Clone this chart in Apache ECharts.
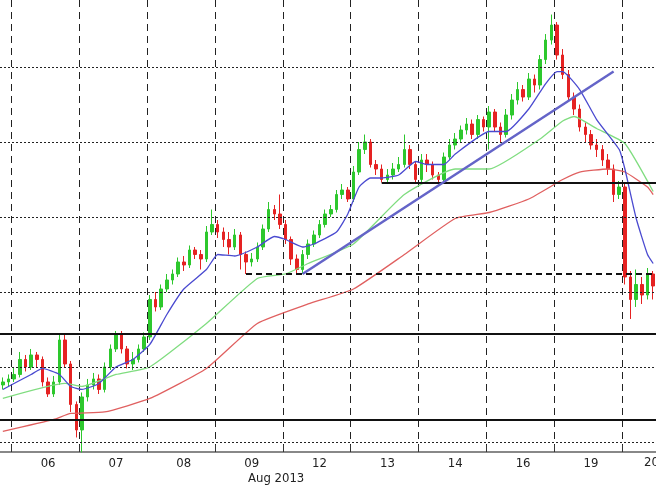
<!DOCTYPE html>
<html><head><meta charset="utf-8">
<script src="https://cdn.jsdelivr.net/npm/echarts@6/dist/echarts.min.js"></script>
<style>html,body{margin:0;padding:0;background:#fff}#c{width:656px;height:492px}</style>
</head><body><div id="c"></div>
<script>
const dayLabels = ['05','06','07','08','09','12','13','14','16','19','20'];
const candlesPerDay = [2,12,12,12,12,12,12,12,12,12,6];
const firstOpen = 96.38;
const closes = [96.40,96.42,
96.45,96.55,96.50,96.58,96.55,96.40,96.32,96.40,96.68,96.52,96.25,96.08,
96.30,96.38,96.42,96.35,96.50,96.62,96.72,96.62,96.52,96.55,96.62,96.70,
96.95,96.90,97.02,97.08,97.12,97.20,97.18,97.28,97.25,97.22,97.40,97.45,
97.40,97.35,97.30,97.38,97.25,97.20,97.22,97.30,97.42,97.55,97.52,97.45,
97.35,97.22,97.15,97.25,97.32,97.38,97.45,97.52,97.55,97.65,97.68,97.62,
97.80,97.95,98.00,97.85,97.82,97.75,97.78,97.82,97.85,97.95,97.85,97.75,
97.88,97.85,97.78,97.75,97.90,97.98,98.02,98.08,98.12,98.05,98.15,98.10,
98.20,98.10,98.05,98.18,98.28,98.35,98.30,98.42,98.38,98.55,98.68,98.78,
98.58,98.45,98.30,98.22,98.10,98.05,97.98,97.95,97.88,97.82,97.65,97.70,
97.10,96.95,97.05,96.98,97.12,97.04];
const highs = [96.43,96.45,
96.50,96.60,96.58,96.62,96.60,96.57,96.43,96.44,96.72,96.72,96.54,96.27,
96.33,96.42,96.46,96.45,96.53,96.65,96.74,96.74,96.64,96.60,96.65,96.73,
96.98,97.00,97.05,97.12,97.15,97.23,97.24,97.31,97.30,97.28,97.44,97.55,
97.48,97.43,97.40,97.42,97.40,97.27,97.26,97.33,97.45,97.60,97.58,97.65,
97.48,97.37,97.25,97.28,97.35,97.41,97.48,97.55,97.58,97.68,97.72,97.70,
97.84,98.00,98.05,98.02,97.88,97.85,97.82,97.86,97.90,98.05,97.98,97.87,
97.92,97.92,97.87,97.80,97.93,98.02,98.06,98.11,98.16,98.15,98.18,98.17,
98.24,98.22,98.13,98.22,98.32,98.40,98.38,98.46,98.45,98.58,98.72,98.85,
98.80,98.62,98.48,98.33,98.25,98.13,98.08,98.02,97.98,97.92,97.85,97.74,
97.72,97.14,97.15,97.10,97.16,97.14];
const lows = [96.35,96.37,
96.40,96.43,96.47,96.48,96.50,96.37,96.30,96.30,96.38,96.50,96.20,96.03,
95.93,96.27,96.35,96.32,96.33,96.48,96.60,96.59,96.49,96.48,96.53,96.60,
96.68,96.87,96.88,97.00,97.05,97.10,97.14,97.16,97.22,97.15,97.20,97.38,
97.36,97.30,97.25,97.28,97.15,97.12,97.17,97.20,97.28,97.40,97.48,97.42,
97.32,97.18,97.12,97.12,97.22,97.30,97.36,97.43,97.50,97.53,97.62,97.60,
97.60,97.78,97.92,97.83,97.78,97.73,97.73,97.75,97.80,97.83,97.82,97.73,
97.73,97.80,97.75,97.73,97.73,97.88,97.95,98.00,98.05,98.02,98.02,98.07,
97.95,98.07,98.00,98.03,98.15,98.25,98.27,98.28,98.33,98.35,98.52,98.65,
98.55,98.42,98.27,98.18,98.07,98.00,97.95,97.90,97.84,97.78,97.60,97.62,
97.05,96.82,96.90,96.92,96.95,96.95];
const maFast = [[0,96.35],[5,96.45],[7,96.49],[10,96.45],[12,96.37],[14,96.35],[17,96.39],[20,96.50],[23,96.55],[26,96.65],[29,96.85],[32,97.02],[36,97.15],[38,97.25],[41,97.24],[45,97.30],[48,97.37],[50,97.35],[53,97.30],[55,97.32],[59,97.40],[61,97.52],[63,97.70],[65,97.76],[67,97.76],[70,97.78],[73,97.87],[75,97.85],[78,97.85],[80,97.92],[86,98.07],[89,98.07],[93,98.22],[96,98.39],[98,98.47],[99,98.47],[102,98.35],[105,98.15],[109,97.95],[110,97.82],[112,97.49],[114,97.25],[115,97.19]];
const maMid = [[0,96.29],[11,96.39],[14,96.37],[20,96.45],[26,96.50],[36,96.79],[45,97.09],[50,97.12],[54,97.19],[62,97.32],[71,97.65],[80,97.82],[86,97.82],[95,98.02],[99,98.14],[101,98.17],[105,98.09],[110,97.99],[115,97.67]];
const maSlow = [[0,96.07],[9,96.15],[12,96.19],[18,96.20],[26,96.29],[36,96.49],[45,96.79],[54,96.92],[62,97.02],[71,97.25],[80,97.49],[86,97.53],[93,97.62],[99,97.75],[102,97.80],[107,97.82],[110,97.80],[114,97.70],[115,97.65]];
const gridLevels = [96.0,96.5,97.0,97.5,98.0,98.5];
const solidLevels = [96.15,96.72];
const resistanceSeg = [[67,97.73],[115,97.73]];
const supportSeg = [[43,97.12],[115,97.12]];
const trendSeg = [[53,97.12],[108,98.47]];
const yRange = [95.933,98.947];

const cats=[]; candlesPerDay.forEach((n,d)=>{for(let i=0;i<n;i++)cats.push(dayLabels[d]);});
const ohlc = closes.map((c,i)=>[i===0?firstOpen:closes[i-1], c, lows[i], highs[i]]);
const isBoundary = i => i>=2 && (i-2)%12===0;
const isLabel = i => i>=2 && (i-2)%12===6;
const font = 'DejaVu Sans Condensed, DejaVu Sans';
const chart = echarts.init(document.getElementById('c'));
const lastIdx = cats.length-1;
chart.setOption({
  animation:false,
  grid:{left:0,right:0,top:0,bottom:40},
  xAxis:{type:'category',data:cats,boundaryGap:true,
    axisLine:{lineStyle:{color:'#888',width:2}},
    axisTick:{show:true,inside:true,interval:(i)=>isBoundary(i),length:7,lineStyle:{color:'#333'}},
    axisLabel:{interval:(i)=>isLabel(i),color:'#222',fontFamily:font,fontSize:13,margin:5},
    splitLine:{show:true,interval:(i)=>isBoundary(i),lineStyle:{color:'#222',type:[7,5],width:1}}},
  yAxis:{type:'value',min:yRange[0],max:yRange[1],show:false,splitLine:{show:false}},
  graphic:[
    {type:'text',left:248,top:472,style:{text:'Aug 2013',fill:'#222',font:'13px '+font}},
    {type:'text',left:644,top:456,style:{text:dayLabels[10],fill:'#222',font:'13px '+font}}],
  series:[
    {type:'line',data:[],silent:true,markLine:{silent:true,symbol:'none',label:{show:false},
      lineStyle:{color:'#222',type:[2,2],width:1},data:gridLevels.map(v=>({yAxis:v}))}},
    {type:'candlestick',data:ohlc,barMaxWidth:3,barWidth:3,
      itemStyle:{color:'#2dc82d',color0:'#e52222',borderColor:'#2dc82d',borderColor0:'#e52222',borderWidth:1},
      markLine:{silent:true,symbol:'none',label:{show:false},data:[
        ...solidLevels.map(v=>({yAxis:v,lineStyle:{color:'#111',width:2,type:'solid'}})),
        [{coord:resistanceSeg[0],lineStyle:{color:'#111',width:2,type:'solid'}},{coord:resistanceSeg[1],x:656}],
        [{coord:supportSeg[0],lineStyle:{color:'#111',width:2,type:[6,4]}},{coord:supportSeg[1],x:656}],
        [{coord:trendSeg[0],lineStyle:{color:'#6464c8',width:2.5,type:'solid'}},{coord:trendSeg[1]}]
      ]}},
    {type:'line',data:maSlow,showSymbol:false,smooth:0.15,lineStyle:{color:'#e06060',width:1.3},z:3},
    {type:'line',data:maMid,showSymbol:false,smooth:0.15,lineStyle:{color:'#80dd80',width:1.3},z:3},
    {type:'line',data:maFast,showSymbol:false,smooth:0.15,lineStyle:{color:'#4a4ad0',width:1.3},z:3}
  ]
});
</script></body></html>
